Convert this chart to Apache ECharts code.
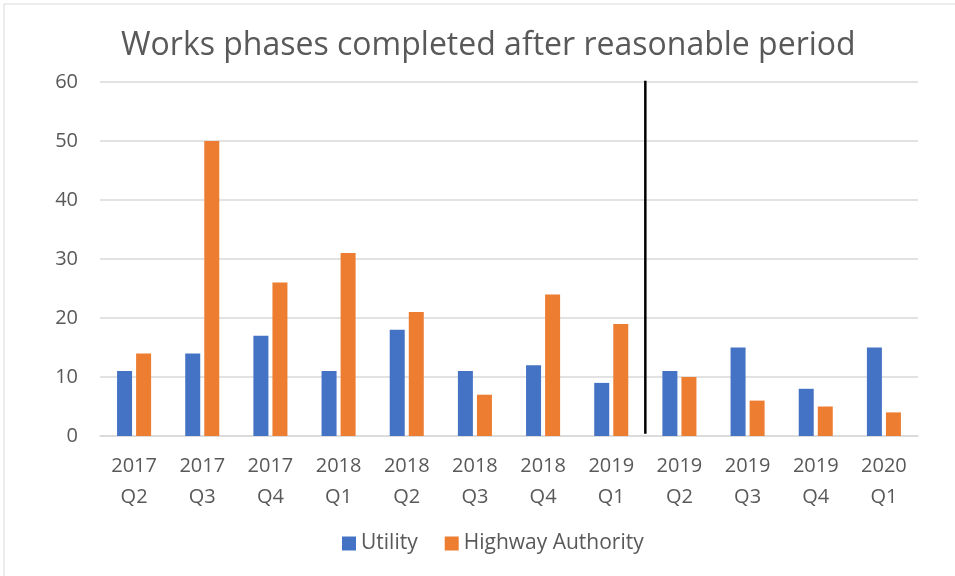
<!DOCTYPE html>
<html>
<head>
<meta charset="utf-8">
<script src="https://cdn.jsdelivr.net/npm/echarts@6/dist/echarts.min.js"></script>
<style>
html, body { margin: 0; padding: 0; background: #fff; }
#chart { width: 955px; height: 576px; }
</style>
</head>
<body>
<div id="chart"></div>
<script>
// 数据
var quarters = ['2017\nQ2', '2017\nQ3', '2017\nQ4', '2018\nQ1', '2018\nQ2', '2018\nQ3',
	'2018\nQ4', '2019\nQ1', '2019\nQ2', '2019\nQ3', '2019\nQ4', '2020\nQ1'];
var utility = [11, 14, 17, 11, 18, 11, 12, 9, 11, 15, 8, 15];
var highway = [14, 50, 26, 31, 21, 7, 24, 19, 10, 6, 5, 4];
// 分隔线位置（第8个类目之后）
var dividerAt = 8;

var chart = echarts.init(document.getElementById('chart'));

var font = 'Open Sans';
var option = {
	animation: false,
	textStyle: { fontFamily: font, color: '#595959' },
	color: ['#4472C4', '#ED7D31'],
	graphic: [{
		type: 'rect',
		shape: { x: 4, y: 4, width: 960, height: 580 },
		style: { fill: 'none', stroke: '#d9d9d9', lineWidth: 1 },
		silent: true
	}],
	title: {
		text: 'Works phases completed after reasonable period',
		left: 116,
		top: 25,
		textStyle: { fontFamily: font, fontSize: 32, fontWeight: 'normal', color: '#595959' }
	},
	legend: {
		bottom: 17,
		left: 337,
		itemWidth: 14,
		itemHeight: 14,
		itemGap: 27,
		icon: 'rect',
		textStyle: { fontFamily: font, fontSize: 21, color: '#595959' },
		data: ['Utility', 'Highway Authority']
	},
	grid: { left: 100, right: 37, top: 82, bottom: 140 },
	xAxis: [{
		type: 'category',
		data: quarters,
		axisLine: { lineStyle: { color: '#d9d9d9', width: 1.5 } },
		axisTick: { show: false },
		axisLabel: { fontFamily: font, fontSize: 20, color: '#595959', lineHeight: 31, margin: 15 }
	}, {
		type: 'value',
		min: 0,
		max: quarters.length,
		show: false
	}],
	yAxis: {
		type: 'value',
		min: 0,
		max: 60,
		interval: 10,
		axisLine: { show: false },
		axisTick: { show: false },
		axisLabel: { fontFamily: font, fontSize: 20, color: '#595959', margin: 22 },
		splitLine: { lineStyle: { color: '#d9d9d9', width: 1.5 } }
	},
	series: [{
		name: 'Utility',
		type: 'bar',
		barWidth: '22%',
		barGap: '27%',
		data: utility
	}, {
		name: 'Highway Authority',
		type: 'bar',
		barWidth: '22%',
		data: highway
	}, {
		name: 'divider',
		type: 'line',
		xAxisIndex: 1,
		symbol: 'none',
		silent: true,
		lineStyle: { color: '#000', width: 2.5 },
		data: [[dividerAt, 0.4], [dividerAt, 60.4]]
	}]
};

chart.setOption(option);
</script>
</body>
</html>
